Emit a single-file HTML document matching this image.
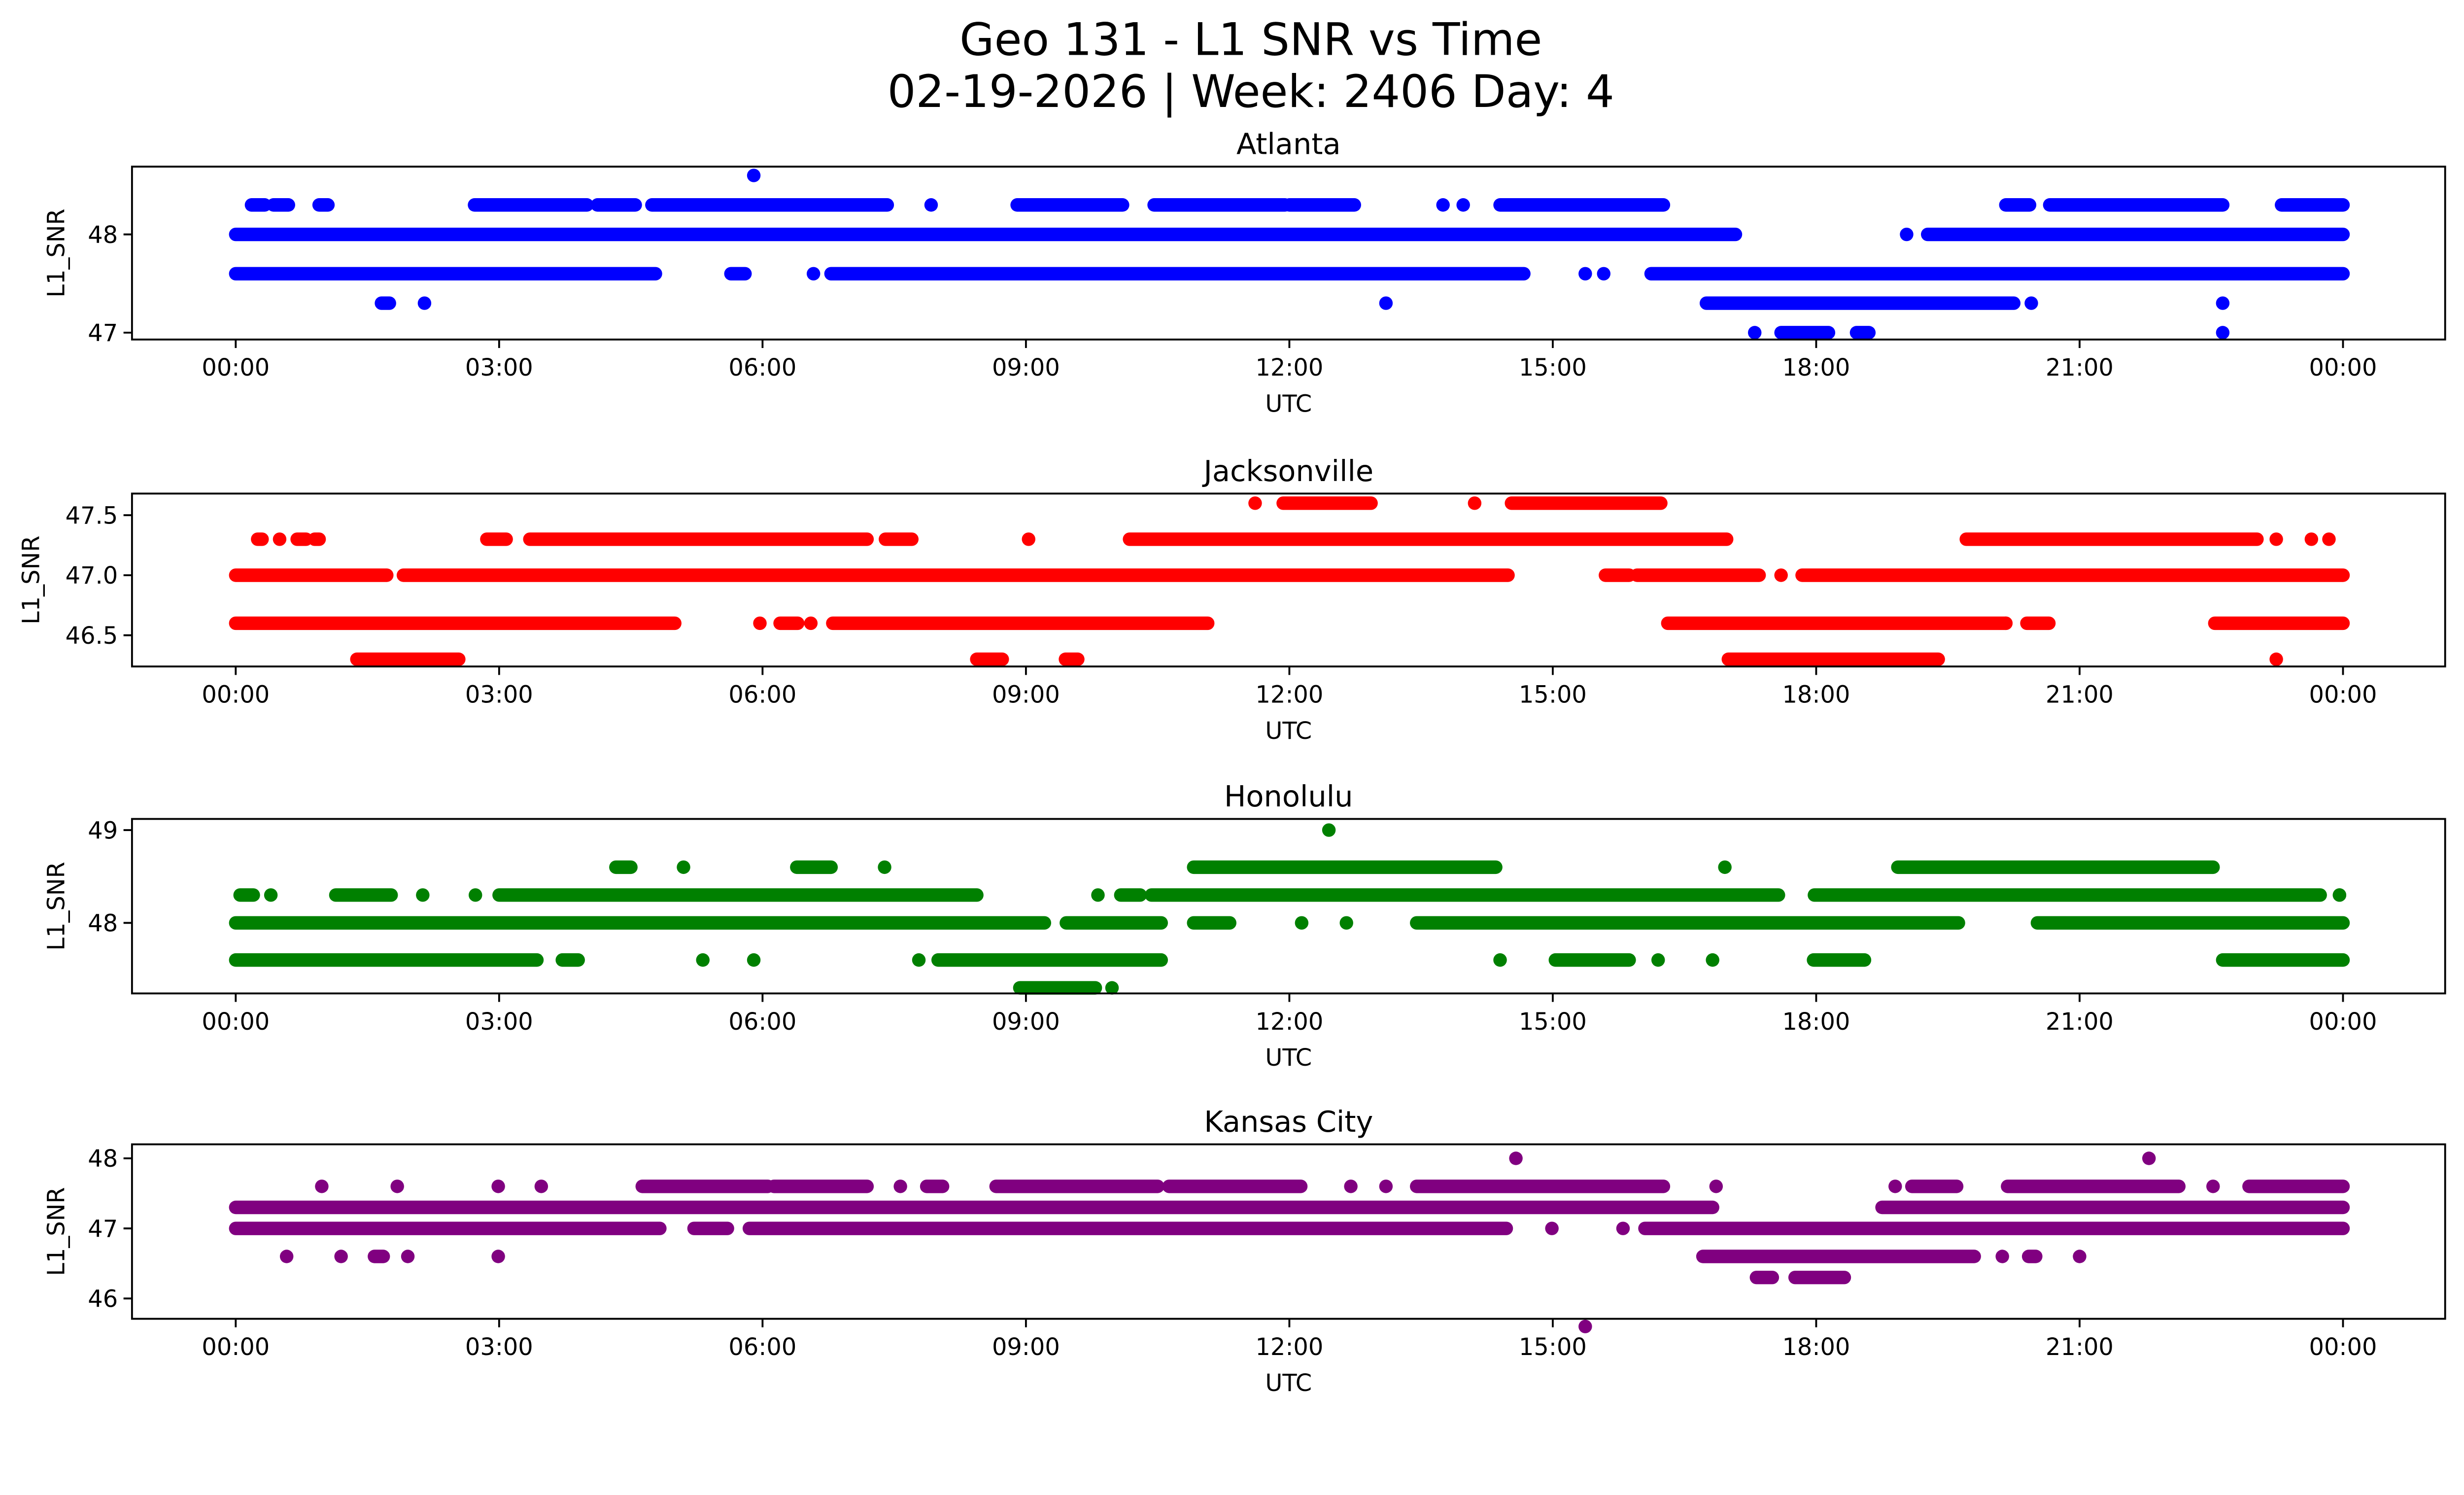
<!DOCTYPE html>
<html><head><meta charset="utf-8"><style>
html,body{margin:0;padding:0;background:#fff;overflow:hidden}
svg{display:block;width:100vw;height:57.465vw}
text{font-family:"DejaVu Sans","Liberation Sans",sans-serif;fill:#000}
</style></head><body>
<svg id="chart" xmlns="http://www.w3.org/2000/svg" viewBox="0 0 1568 901" preserveAspectRatio="none">
<rect width="1568" height="901" fill="#fff"/>
<text x="796" y="35" font-size="28.5" text-anchor="middle">Geo 131 - L1 SNR vs Time</text>
<text x="796" y="68" font-size="28.5" text-anchor="middle">02-19-2026 | Week: 2406 Day: 4</text>
</svg>
<script>
// Tick labels
const xTickHours = [0,3,6,9,12,15,18,21,24];
const xTickLabels = ["00:00","03:00","06:00","09:00","12:00","15:00","18:00","21:00","00:00"];

// Atlanta runs (value, start hour, end hour)
const atlLevels = [48,48,48,48.3,48.3,48.3,48.3,48.3,48.3,48.3,48.3,48.3,48.3,48.3,48.3,48.3,48.3,48.3,48.3,48.3,47.6,47.6,47.6,47.6,47.6,47.6,47.6,47.3,47.3,47.3,47.3,47.3,47.3,47,47,47,47,48.6];
const atlStart = [0,19.03,19.27,0.18,0.43,0.95,2.72,4.12,4.74,7.92,8.9,10.46,12.0,13.75,13.98,14.4,20.16,20.66,22.6,23.3,0,5.64,6.58,6.78,15.37,15.58,16.12,1.66,2.15,13.1,16.75,20.45,22.63,17.3,17.6,18.46,22.63,5.9];
const atlEnd = [17.08,19.03,24,0.33,0.6,1.05,4.0,4.55,7.42,7.92,10.1,11.95,12.74,13.75,13.98,16.26,20.43,22.6,22.63,24,4.78,5.8,6.58,14.67,15.37,15.58,24,1.75,2.15,13.1,20.25,20.45,22.63,17.3,18.14,18.6,22.63,5.9];

// Jacksonville runs
const jaxLevels = [47.6,47.6,47.6,47.6,47.3,47.3,47.3,47.3,47.3,47.3,47.3,47.3,47.3,47.3,47.3,47.3,47.3,47,47,47,47,47,47,46.6,46.6,46.6,46.6,46.6,46.6,46.6,46.6,46.6,46.3,46.3,46.3,46.3,46.3];
const jaxStart = [11.61,11.93,14.11,14.53,0.25,0.5,0.7,0.9,2.86,3.35,7.4,9.03,10.18,19.71,23.24,23.64,23.84,0,1.91,15.6,15.96,17.6,17.84,0,5.97,6.2,6.55,6.8,16.31,20.16,20.4,22.54,1.38,8.44,9.45,17.0,23.24];
const jaxEnd = [11.61,12.93,14.11,16.23,0.3,0.5,0.8,0.95,3.08,7.19,7.7,9.03,16.98,23.02,23.24,23.64,23.84,1.72,14.49,15.87,17.35,17.6,24,5.0,5.97,6.4,6.55,11.07,20.16,20.16,20.65,24,2.54,8.73,9.59,19.39,23.24];

// Honolulu runs
const hnlLevels = [49,48.6,48.6,48.6,48.6,48.6,48.6,48.6,48.3,48.3,48.3,48.3,48.3,48.3,48.3,48.3,48.3,48.3,48.3,48.3,48,48,48,48,48,48,48,47.6,47.6,47.6,47.6,47.6,47.6,47.6,47.6,47.6,47.6,47.6,47.6,47.3,47.3];
const hnlStart = [12.45,4.33,5.1,6.39,7.39,10.91,16.96,18.93,0.05,0.4,1.14,2.13,2.73,3.0,9.82,10.08,10.43,17.98,23.96,23.96,0,9.46,10.91,12.14,12.65,13.45,20.52,0,3.72,5.32,5.9,7.78,8.0,14.4,15.03,16.2,16.82,17.97,22.63,8.93,9.98];
const hnlEnd = [12.45,4.5,5.1,6.78,7.39,14.35,16.96,22.52,0.2,0.4,1.77,2.13,2.73,8.44,9.82,10.3,17.57,23.74,23.96,23.96,9.21,10.54,11.32,12.14,12.65,19.62,24,3.43,3.9,5.32,5.9,7.78,10.54,14.4,15.87,16.2,16.82,18.55,24,9.79,9.98];

// Kansas City runs
const kcLevels = [48,48,47.6,47.6,47.6,47.6,47.6,47.6,47.6,47.6,47.6,47.6,47.6,47.6,47.6,47.6,47.6,47.6,47.6,47.6,47.6,47.3,47.3,47,47,47,47,47,47,46.6,46.6,46.6,46.6,46.6,46.6,46.6,46.6,46.6,46.3,46.3,45.6];
const kcStart = [14.58,21.79,0.98,1.84,2.99,3.48,4.63,6.13,7.57,7.87,8.66,10.63,12.7,13.1,13.45,16.86,18.9,19.09,20.18,22.52,22.93,0,18.75,0,5.22,5.85,14.99,15.8,16.05,0.58,1.2,1.58,1.96,2.99,16.71,20.12,20.42,21.0,17.32,17.76,15.37];
const kcEnd = [14.58,21.79,0.98,1.84,2.99,3.48,6.06,7.19,7.57,8.05,10.5,12.13,12.7,13.1,16.26,16.86,18.9,19.6,22.13,22.52,24,16.82,24,4.83,5.6,14.47,14.99,15.8,24,0.58,1.2,1.68,1.96,2.99,19.8,20.12,20.5,21.0,17.5,18.32,15.37];

const X0 = 150, X1 = 1491; // 00:00 and next 00:00
function xScale(h){ return X0 + (X1 - X0) * h / 24; }

const panels = [
  {name:"atlanta", title:"Atlanta", color:"#0000ff", top:106, bottom:216, vmin:46.93, vmax:48.69, yticks:[47,48], ylabels:["47","48"], labX:41, levels:atlLevels, starts:atlStart, ends:atlEnd},
  {name:"jacksonville", title:"Jacksonville", color:"#ff0000", top:314, bottom:424, vmin:46.24, vmax:47.68, yticks:[46.5,47,47.5], ylabels:["46.5","47.0","47.5"], labX:25, levels:jaxLevels, starts:jaxStart, ends:jaxEnd},
  {name:"honolulu", title:"Honolulu", color:"#008000", top:521, bottom:632, vmin:47.24, vmax:49.12, yticks:[48,49], ylabels:["48","49"], labX:41, levels:hnlLevels, starts:hnlStart, ends:hnlEnd},
  {name:"kansas-city", title:"Kansas City", color:"#800080", top:728, bottom:839, vmin:45.71, vmax:48.2, yticks:[46,47,48], ylabels:["46","47","48"], labX:41, levels:kcLevels, starts:kcStart, ends:kcEnd}
];

const NS = "http://www.w3.org/2000/svg";
const svg = document.getElementById("chart");
function mk(tag, attrs, parent){
  const e = document.createElementNS(NS, tag);
  for (const k in attrs) e.setAttribute(k, attrs[k]);
  (parent || svg).appendChild(e);
  return e;
}
const AX_L = 84, AX_R = 1556;

panels.forEach(p => {
  const yScale = v => p.bottom - (v - p.vmin) / (p.vmax - p.vmin) * (p.bottom - p.top);
  const g = mk("g", {});
  
  

  const t = mk("text", {x:(AX_L+AX_R)/2, y:p.top-8, "font-size":"18.5", "text-anchor":"middle"}, g);
  t.textContent = p.title;
  
  

  const marks = mk("g", {fill:p.color, stroke:p.color, "stroke-width":"8.6", "stroke-linecap":"round"}, g);
  
  
  for (let i = 0; i < p.levels.length; i++){
    const y = yScale(p.levels[i]);
    const seg = mk("line", {x1:xScale(p.starts[i]), y1:y, x2:xScale(p.ends[i])+0.01, y2:y}, marks);
    
    
  }

  const frame = mk("rect", {x:AX_L, y:p.top, width:AX_R-AX_L, height:p.bottom-p.top, fill:"none", stroke:"#000", "stroke-width":"1.2"}, g);
  
  

  xTickHours.forEach((h, i) => {
    const x = xScale(h);
    const tk = mk("line", {x1:x, y1:p.bottom, x2:x, y2:p.bottom+5.4, stroke:"#000", "stroke-width":"1.2"}, g);
    
    
    const lb = mk("text", {x:x, y:p.bottom+23, "font-size":"15", "text-anchor":"middle"}, g);
    lb.textContent = xTickLabels[i];
    
    
  });
  const xl = mk("text", {x:(AX_L+AX_R)/2, y:p.bottom+46, "font-size":"15", "text-anchor":"middle"}, g);
  xl.textContent = "UTC";
  
  

  p.yticks.forEach((v, i) => {
    const y = yScale(v);
    const tk = mk("line", {x1:AX_L-5.4, y1:y, x2:AX_L, y2:y, stroke:"#000", "stroke-width":"1.2"}, g);
    
    
    const lb = mk("text", {x:AX_L-9, y:y+5.4, "font-size":"15", "text-anchor":"end"}, g);
    lb.textContent = p.ylabels[i];
    
    
  });
  const ym = (p.top + p.bottom) / 2;
  const yl = mk("text", {x:0, y:0, "font-size":"15", "text-anchor":"middle", transform:"translate(" + p.labX + "," + ym + ") rotate(-90)"}, g);
  yl.textContent = "L1_SNR";
  
  
});
</script>
</body></html>
